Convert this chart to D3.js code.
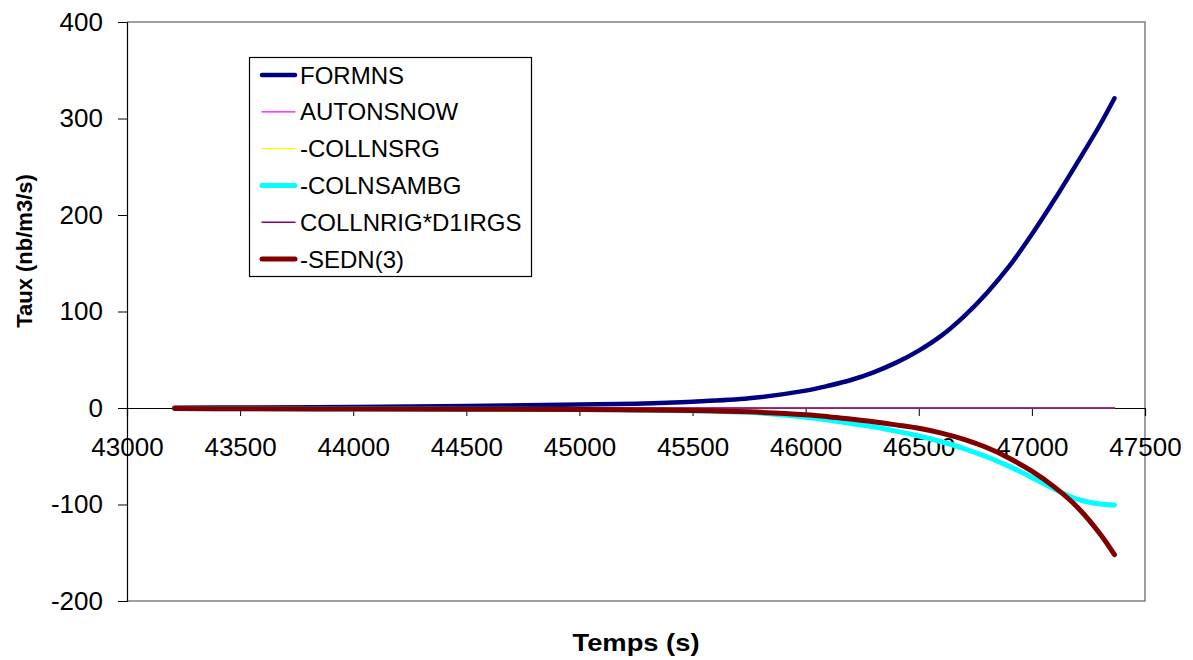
<!DOCTYPE html>
<html>
<head>
<meta charset="utf-8">
<script src="https://cdn.jsdelivr.net/npm/d3@7"></script>
<style>
  html, body { margin: 0; padding: 0; background: #fff; }
  svg { display: block; font-family: "Liberation Sans", Arial, sans-serif; }
</style>
</head>
<body>
<svg id="chart" width="1193" height="660"></svg>
<script>
// ---- data ----
const times = [43210, 43500, 44000, 44500, 45000, 45250, 45500, 45750, 46000, 46100, 46200, 46300, 46400, 46500, 46600, 46700, 46800, 46900, 47000, 47100, 47200, 47300, 47365];
const formns    = [0.3, 0.5, 1, 2, 3.5, 4.5, 6.5, 10, 18, 23, 29, 37, 47, 59.5, 75, 95, 119, 147, 180, 216, 254, 293, 321];
const autonsnow = times.map(() => 0);
const collnsrg  = times.map(() => 0);
const colnsambg = [-0.5, -0.8, -1, -1.3, -1.6, -2, -2.8, -4.5, -9.5, -12.5, -16, -19.5, -24, -29, -35, -42, -50.5, -60.5, -72, -84, -94.5, -99.5, -100.5];
const collnrig  = times.map(() => 0);
const sedn3     = [-0.5, -0.8, -1, -1.3, -1.5, -2, -2.5, -4, -7, -9, -11.5, -14.2, -17.5, -21, -26, -32.5, -41, -52, -65.5, -82, -102.5, -130, -152];

const seriesNames = ["FORMNS", "AUTONSNOW", "-COLLNSRG", "-COLNSAMBG", "COLLNRIG*D1IRGS", "-SEDN(3)"];
const seriesValues = [formns, autonsnow, collnsrg, colnsambg, collnrig, sedn3];
const seriesColors = ["#000080", "#FF00FF", "#FFFF00", "#00FFFF", "#800080", "#800000"];
const seriesWidths = [4.5, 1.2, 1.2, 5, 1.5, 5];

const xTicks = [43000, 43500, 44000, 44500, 45000, 45500, 46000, 46500, 47000, 47500];
const yTicks = [-200, -100, 0, 100, 200, 300, 400];

// ---- layout ----
const svg = d3.select("#chart");
const pL = 127, pR = 1145, pT = 22, pB = 601;
const x = d3.scaleLinear().domain([43000, 47500]).range([pL, pR]);
const y = d3.scaleLinear().domain([-200, 400]).range([pB, pT]);
const fmt = d => String(d);

svg.append("rect").attr("width", 1193).attr("height", 660).attr("fill", "#fff");

// plot-area border (gray) on top, right, bottom
svg.append("path")
  .attr("d", `M${pL},${pT}H${pR}V${pB}H${pL}`)
  .attr("fill", "none").attr("stroke", "#808080").attr("stroke-width", 1.5);

// y axis
const yAxis = svg.append("g").attr("transform", `translate(${pL},0)`)
  .call(d3.axisLeft(y).tickValues(yTicks).tickSize(9).tickPadding(15).tickFormat(fmt));
yAxis.select(".domain").attr("stroke", "#000").attr("stroke-width", 1.2);
yAxis.selectAll(".tick line").attr("stroke", "#000");
yAxis.selectAll("text").attr("font-size", 26).attr("fill", "#000")
  .attr("font-family", "'Liberation Sans', Arial, sans-serif");

// x axis at zero
const xAxis = svg.append("g").attr("transform", `translate(0,${y(0)})`)
  .call(d3.axisBottom(x).tickValues(xTicks).tickSize(8).tickPadding(22).tickFormat(fmt));
xAxis.select(".domain").attr("stroke", "#000").attr("stroke-width", 1.2);
xAxis.selectAll(".tick line").attr("stroke", "#000");
xAxis.selectAll("text").attr("font-size", 26).attr("fill", "#000")
  .attr("font-family", "'Liberation Sans', Arial, sans-serif");

// series lines
const line = d3.line().x((d, i) => x(times[i])).y(d => y(d)).curve(d3.curveCatmullRom.alpha(0.5));
seriesValues.forEach((vals, k) => {
  svg.append("path")
    .datum(vals)
    .attr("d", line)
    .attr("fill", "none")
    .attr("stroke", seriesColors[k])
    .attr("stroke-width", seriesWidths[k])
    .attr("stroke-linecap", "round")
    .attr("stroke-linejoin", "round");
});

// axis titles
svg.append("text")
  .attr("x", 636).attr("y", 651)
  .attr("text-anchor", "middle")
  .attr("font-size", 24).attr("font-weight", "bold")
  .attr("textLength", 127).attr("lengthAdjust", "spacingAndGlyphs")
  .text("Temps (s)");

svg.append("text")
  .attr("transform", "translate(24,251) rotate(-90)")
  .attr("text-anchor", "middle").attr("dy", "0.35em")
  .attr("font-size", 22).attr("font-weight", "bold")
  .text("Taux (nb/m3/s)");

// legend
const lg = svg.append("g");
lg.append("rect")
  .attr("x", 249.5).attr("y", 57.5).attr("width", 282).attr("height", 219)
  .attr("fill", "#fff").attr("stroke", "#000").attr("stroke-width", 1.2);
const rowY = d3.scaleLinear().domain([0, 5]).range([75, 259]);
seriesNames.forEach((name, k) => {
  const cy = rowY(k);
  lg.append("line")
    .attr("x1", 262).attr("x2", 295).attr("y1", cy).attr("y2", cy)
    .attr("stroke", seriesColors[k]).attr("stroke-width", seriesWidths[k])
    .attr("stroke-linecap", "round");
  lg.append("text")
    .attr("x", 300).attr("y", cy).attr("dy", "0.36em")
    .attr("font-size", 24).attr("fill", "#000")
    .text(name);
});
</script>
</body>
</html>
